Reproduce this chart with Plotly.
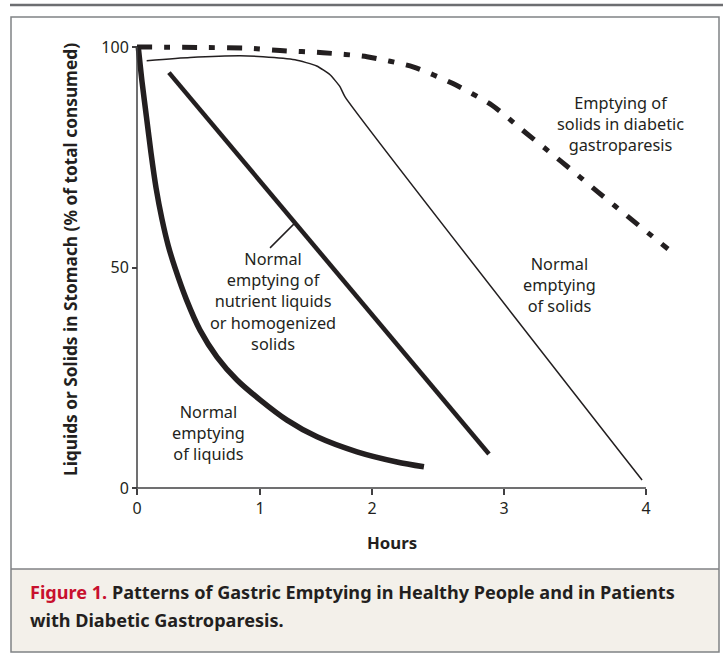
import numpy as np
import plotly.graph_objects as go

# ---------------- data ----------------
liquids_hours = [0.01, 0.04, 0.075, 0.11, 0.15, 0.196, 0.245, 0.299, 0.39, 0.495, 0.629,
                 0.786, 0.967, 1.179, 1.415, 1.729, 2.043, 2.255]
liquids_pct = [100.0, 92.0, 84.0, 76.0, 68.0, 61.0, 55.0, 49.9, 42.6, 35.8, 29.7,
               24.5, 20.0, 15.4, 11.6, 8.2, 5.9, 4.8]

nutrient_hours = [0.251, 2.766]
nutrient_pct = [94.2, 7.7]

solids_hours = [0.076, 0.417, 0.809, 0.990, 1.242, 1.412, 1.517, 1.595, 1.635, 3.969]
solids_pct = [96.9, 97.6, 98.0, 97.8, 97.1, 95.7, 93.7, 91.0, 88.7, 1.8]

diabetic_hours = [0.0, 0.495, 0.888, 1.124, 1.462, 1.807, 2.169, 2.483, 2.790,
                  3.057, 3.340, 3.623, 3.890, 4.173]
diabetic_pct = [100.0, 99.9, 99.7, 99.2, 98.7, 97.8, 95.5, 91.7, 86.8,
                80.5, 73.9, 67.1, 60.8, 54.2]

hour_tick_positions = [0, 0.967, 1.847, 2.884, 4]
hour_tick_labels = ["0", "1", "2", "3", "4"]
pct_tick_values = [0, 50, 100]
pct_tick_labels = ["0", "50", "100"]

# ---------------- layout geometry ----------------
W, H = 723, 655
L, R, T, B = 131, 40, 38, 162
PW, PH = W - L - R, H - T - B
X0PX, X4PX = 137, 646          # pixel of hour 0 and hour 4
Y0PX, Y100PX = 488, 47         # pixel of 0 % and 100 %
xu = (X4PX - X0PX) / 4.0
yu = (Y0PX - Y100PX) / 100.0
x_range = [(L - X0PX) / xu, (W - R - X0PX) / xu]
y_range = [(Y0PX - (H - B)) / yu, (Y0PX - T) / yu]


def px(x):
    return (x - L) / PW


def py(y):
    return (H - B - y) / PH


INK = "#231f20"
FONT = "Noto Sans"

fig = go.Figure()

fig.add_trace(go.Scatter(x=liquids_hours, y=liquids_pct, mode="lines",
                         line=dict(color=INK, width=5.5, shape="spline", smoothing=0.8),
                         hoverinfo="skip"))
fig.add_trace(go.Scatter(x=nutrient_hours, y=nutrient_pct, mode="lines",
                         line=dict(color=INK, width=4.5), hoverinfo="skip"))
fig.add_trace(go.Scatter(x=solids_hours, y=solids_pct, mode="lines",
                         line=dict(color=INK, width=1.5, shape="spline", smoothing=0.5),
                         hoverinfo="skip"))
fig.add_trace(go.Scatter(x=diabetic_hours, y=diabetic_pct, mode="lines",
                         line=dict(color=INK, width=5, shape="spline", smoothing=0.6,
                                   dash="15px,12px,6px,12px"),
                         hoverinfo="skip"))

# leader line from nutrient-line label to the line
lead_x = 1.242
lead_y = float(np.interp(lead_x, nutrient_hours, nutrient_pct))
shapes = []
shapes.append(dict(type="line", xref="x", yref="y", x0=lead_x, y0=lead_y,
                   x1=lead_x - 25 / xu, y1=lead_y - 25 / yu,
                   line=dict(color=INK, width=1.5)))

# axis lines
shapes.append(dict(type="line", xref="x", yref="y", x0=0, y0=0, x1=4, y1=0,
                   line=dict(color="#414042", width=1.5)))
shapes.append(dict(type="line", xref="x", yref="y", x0=0, y0=0, x1=0, y1=100,
                   line=dict(color="#414042", width=1.5)))

# frame
FR = "#808285"
shapes.append(dict(type="rect", xref="paper", yref="paper", layer="below",
                   x0=px(11), x1=px(719), y0=py(569), y1=py(652),
                   fillcolor="#f3f0ea", line=dict(width=0)))
shapes.append(dict(type="rect", xref="paper", yref="paper",
                   x0=px(11), x1=px(719), y0=py(652), y1=py(17),
                   line=dict(color=FR, width=1.5)))
shapes.append(dict(type="line", xref="paper", yref="paper",
                   x0=px(11), x1=px(719), y0=py(569), y1=py(569),
                   line=dict(color=FR, width=1.5)))
shapes.append(dict(type="line", xref="paper", yref="paper",
                   x0=px(10), x1=px(723), y0=py(5), y1=py(5),
                   line=dict(color="#6d6e71", width=2.5)))

ann = []
lab_font = dict(family=FONT, size=16.3, color=INK)


def label(text, x, y):
    ann.append(dict(text=text, xref="paper", yref="paper", x=px(x), y=py(y),
                    xanchor="center", yanchor="middle", showarrow=False, font=lab_font))


label("Emptying of<br>solids in diabetic<br>gastroparesis", 620, 124)
label("Normal<br>emptying<br>of solids", 559, 285)
label("Normal<br>emptying<br>of liquids", 208, 433)
label("Normal<br>emptying of<br>nutrient liquids<br>or homogenized<br>solids", 273, 302)

ann.append(dict(text="<b>Liquids or Solids in Stomach (% of total consumed)</b>",
                xref="paper", yref="paper", x=px(70), y=py(260), textangle=-90,
                xanchor="center", yanchor="middle", showarrow=False,
                font=dict(family=FONT, size=17.3, color=INK)))
ann.append(dict(text="<b>Hours</b>", xref="paper", yref="paper", x=px(392), y=py(542),
                xanchor="center", yanchor="middle", showarrow=False,
                font=dict(family=FONT, size=16.8, color=INK)))
ann.append(dict(text="<b><span style='color:#c8102e'>Figure 1.</span> Patterns of Gastric "
                     "Emptying in Healthy People and in Patients</b>",
                xref="paper", yref="paper", x=px(28), y=py(592),
                xanchor="left", yanchor="middle", showarrow=False,
                font=dict(family=FONT, size=18.1, color=INK)))
ann.append(dict(text="<b>with Diabetic Gastroparesis.</b>",
                xref="paper", yref="paper", x=px(28), y=py(620),
                xanchor="left", yanchor="middle", showarrow=False,
                font=dict(family=FONT, size=18.1, color=INK)))

fig.update_layout(
    width=W, height=H, margin=dict(l=L, r=R, t=T, b=B, autoexpand=False),
    paper_bgcolor="white", plot_bgcolor="white", showlegend=False,
    shapes=shapes, annotations=ann,
    xaxis=dict(range=x_range, showgrid=False, zeroline=False, showline=False,
               tickmode="array", tickvals=hour_tick_positions, ticktext=hour_tick_labels,
               ticks="outside", ticklen=6, tickwidth=1.5, tickcolor="#414042",
               anchor="free", position=(0 - y_range[0]) / (y_range[1] - y_range[0]),
               tickfont=dict(family=FONT, size=16, color=INK), fixedrange=True),
    yaxis=dict(range=y_range, showgrid=False, zeroline=False, showline=False,
               tickmode="array", tickvals=pct_tick_values, ticktext=pct_tick_labels,
               ticks="outside", ticklen=5, tickwidth=1.5, tickcolor="#414042",
               anchor="free", position=(0 - x_range[0]) / (x_range[1] - x_range[0]),
               tickfont=dict(family=FONT, size=16, color=INK), fixedrange=True),
)

fig.write_html("out.html", config={"displayModeBar": False},
               post_script="document.body.style.margin='0';document.body.style.overflow='hidden';")
